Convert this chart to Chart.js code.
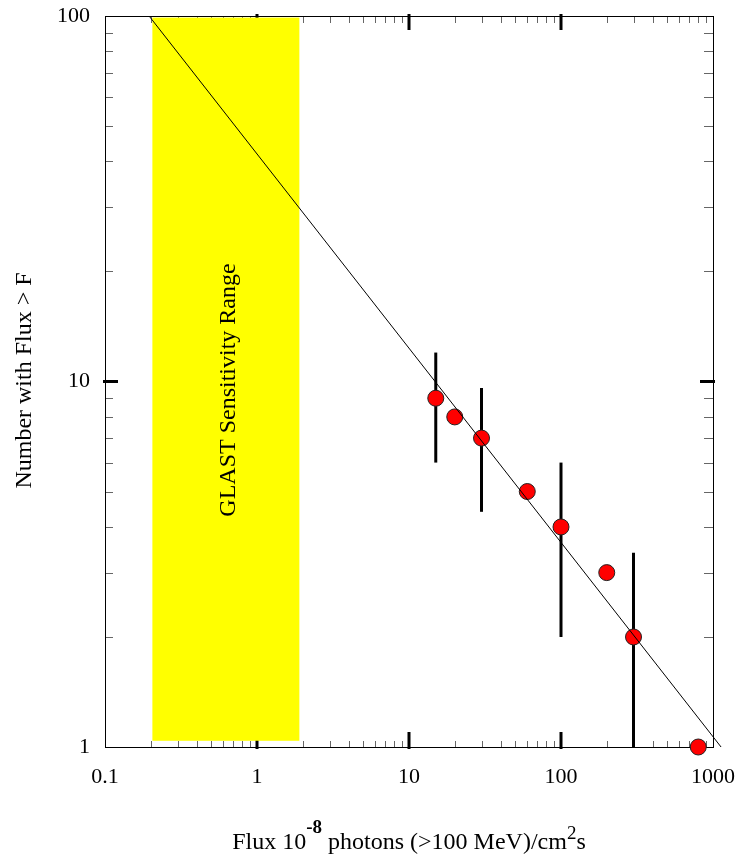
<!DOCTYPE html>
<html><head><meta charset="utf-8">
<script src="https://cdn.jsdelivr.net/npm/chart.js@4.4.1/dist/chart.umd.min.js"></script>
<style>html,body{margin:0;padding:0;background:#fff}#wrap{width:739px;height:854px;position:relative}</style>
</head><body><div id="wrap"><canvas id="c" width="739" height="854"></canvas></div>
<script>
// ---- data ----
const fluxValues  = [15, 20, 30, 60, 100, 200, 300, 800];
const countValues = [9, 8, 7, 5, 4, 3, 2, 1];
const errorFlux = [15, 30, 100, 300];
const errorLow  = [6, 4.4, 2, 1];
const errorHigh = [12, 9.6, 6, 3.4];
const fitFlux  = [0.195, 1130];
const fitCount = [100, 1];
const glastFlux  = [0.205, 1.9];
const glastCount = [1.04, 99];
const xTickValues = [0.1, 1, 10, 100, 1000];
const xTickLabels = ['0.1', '1', '10', '100', '1000'];
const yTickValues = [1, 10, 100];
const yTickLabels = ['1', '10', '100'];
const glastLabel = 'GLAST Sensitivity Range';
const yTitle = 'Number with Flux > F';
const xTitleParts = [['Flux 10', 0], ['-8', 1], [' photons (>100 MeV)/cm', 0], ['2', 2], ['s', 0]];

const FONT = "'Liberation Serif', 'Times New Roman', serif";

function minorValues(decades) {
  const out = [];
  for (let i = 0; i < decades.length - 1; i++) {
    for (let m = 2; m <= 9; m++) out.push(decades[i] * m);
  }
  return out;
}

const framePlugin = {
  id: 'frame',
  beforeDatasetsDraw(chart) {
    const ctx = chart.ctx, a = chart.chartArea;
    const xs = chart.scales.x, ys = chart.scales.y;
    ctx.save();
    // minor ticks
    ctx.strokeStyle = '#666';
    ctx.lineWidth = 1;
    minorValues(xTickValues).forEach(v => {
      const px = Math.round(xs.getPixelForValue(v)) + 0.5;
      ctx.beginPath();
      ctx.moveTo(px, a.bottom); ctx.lineTo(px, a.bottom - 6);
      ctx.moveTo(px, a.top); ctx.lineTo(px, a.top + 7);
      ctx.stroke();
    });
    minorValues(yTickValues).forEach(v => {
      const py = Math.round(ys.getPixelForValue(v)) + 0.5;
      ctx.beginPath();
      ctx.moveTo(a.left, py); ctx.lineTo(a.left + 8, py);
      ctx.moveTo(a.right, py); ctx.lineTo(a.right - 9, py);
      ctx.stroke();
    });
    // major ticks
    ctx.strokeStyle = '#000';
    ctx.lineWidth = 3;
    xTickValues.forEach(v => {
      const px = xs.getPixelForValue(v);
      if (px <= a.left + 2 || px >= a.right - 2) return;
      ctx.beginPath();
      ctx.moveTo(px, a.bottom + 2); ctx.lineTo(px, a.bottom - 15);
      ctx.moveTo(px, a.top - 2); ctx.lineTo(px, a.top + 14);
      ctx.stroke();
    });
    yTickValues.forEach(v => {
      const py = ys.getPixelForValue(v);
      if (py <= a.top + 2 || py >= a.bottom - 2) return;
      ctx.beginPath();
      ctx.moveTo(a.left - 2, py); ctx.lineTo(a.left + 13, py);
      ctx.moveTo(a.right + 2, py); ctx.lineTo(a.right - 13, py);
      ctx.stroke();
    });
    // frame
    ctx.lineWidth = 1;
    ctx.strokeStyle = '#000';
    ctx.strokeRect(Math.round(a.left) + 0.5, Math.round(a.top) + 0.5,
                   Math.round(a.right - a.left), Math.round(a.bottom - a.top));
    // GLAST band
    const x0 = xs.getPixelForValue(glastFlux[0]), x1 = xs.getPixelForValue(glastFlux[1]);
    const y0 = ys.getPixelForValue(glastCount[1]), y1 = ys.getPixelForValue(glastCount[0]);
    ctx.fillStyle = '#ffff00';
    ctx.fillRect(x0, y0, x1 - x0, y1 - y0);
    ctx.fillStyle = '#000';
    ctx.font = '24px ' + FONT;
    ctx.textAlign = 'center';
    ctx.textBaseline = 'alphabetic';
    ctx.translate((x0 + x1) / 2 + 9, 390);
    ctx.rotate(-Math.PI / 2);
    ctx.fillText(glastLabel, 0, 0);
    ctx.restore();
    // error bars
    ctx.save();
    ctx.strokeStyle = '#000';
    ctx.lineWidth = 3;
    errorFlux.forEach((f, i) => {
      const px = xs.getPixelForValue(f);
      ctx.beginPath();
      ctx.moveTo(px, ys.getPixelForValue(errorHigh[i]));
      ctx.lineTo(px, ys.getPixelForValue(errorLow[i]));
      ctx.stroke();
    });
    ctx.restore();
  },
  afterDraw(chart) {
    const ctx = chart.ctx, a = chart.chartArea;
    ctx.save();
    ctx.fillStyle = '#000';
    // y title
    ctx.font = '24px ' + FONT;
    ctx.textAlign = 'center';
    ctx.textBaseline = 'alphabetic';
    ctx.save();
    ctx.translate(31, (a.top + a.bottom) / 2 - 1);
    ctx.rotate(-Math.PI / 2);
    ctx.fillText(yTitle, 0, 0);
    ctx.restore();
    // x title with superscripts
    const fonts = ['24px ' + FONT, 'bold 19px ' + FONT, '19px ' + FONT];
    const raise = [0, 16, 10];
    let total = 0;
    xTitleParts.forEach(([t, k]) => { ctx.font = fonts[k]; total += ctx.measureText(t).width; });
    let x = (a.left + a.right) / 2 - total / 2;
    const base = 849;
    ctx.textAlign = 'left';
    xTitleParts.forEach(([t, k]) => {
      ctx.font = fonts[k];
      ctx.fillText(t, x, base - raise[k]);
      x += ctx.measureText(t).width;
    });
    ctx.restore();
  }
};

new Chart(document.getElementById('c'), {
  type: 'scatter',
  data: {
    datasets: [
      {
        type: 'line',
        data: fitFlux.map((f, i) => ({x: f, y: fitCount[i]})),
        borderColor: '#000',
        borderWidth: 1,
        pointRadius: 0,
        fill: false,
        clip: false,
        order: 0
      },
      {
        data: fluxValues.map((f, i) => ({x: f, y: countValues[i]})),
        backgroundColor: '#ff0000',
        borderColor: '#222',
        borderWidth: 1,
        pointRadius: 8,
        pointHoverRadius: 8,
        clip: false,
        order: 1
      }
    ]
  },
  options: {
    responsive: false,
    animation: false,
    events: [],
    layout: {padding: {top: 16, right: 26, left: 0, bottom: 0}},
    plugins: {legend: {display: false}, tooltip: {enabled: false}},
    scales: {
      x: {
        type: 'logarithmic',
        min: 0.1, max: 1000,
        grid: {display: false, drawTicks: false},
        border: {display: false},
        afterBuildTicks: s => { s.ticks = xTickValues.map(v => ({value: v})); },
        afterFit: s => { s.height = 107; s.paddingLeft = 0; s.paddingRight = 0; },
        ticks: {
          autoSkip: false, maxRotation: 0, padding: 17, color: '#000',
          font: {family: FONT, size: 22},
          callback: (v, i) => xTickLabels[i]
        }
      },
      y: {
        type: 'logarithmic',
        min: 1, max: 100,
        grid: {display: false, drawTicks: false},
        border: {display: false},
        afterBuildTicks: s => { s.ticks = yTickValues.map(v => ({value: v})); },
        afterFit: s => { s.width = 105; s.paddingTop = 0; s.paddingBottom = 0; },
        ticks: {
          autoSkip: false, padding: 15, color: '#000',
          font: {family: FONT, size: 22},
          callback: (v, i) => yTickLabels[i]
        }
      }
    }
  },
  plugins: [framePlugin]
});
</script>
</body></html>
